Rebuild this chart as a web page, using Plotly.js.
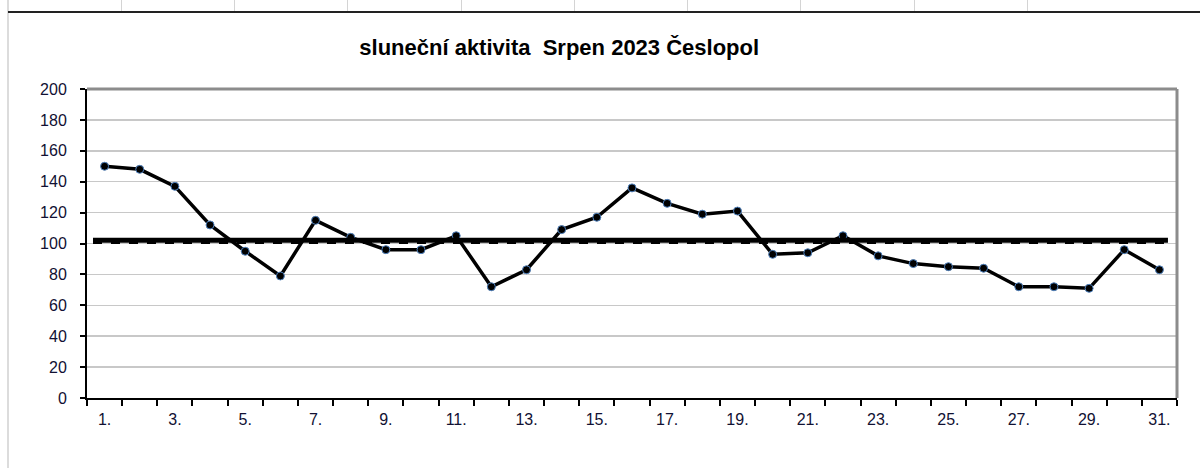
<!DOCTYPE html>
<html>
<head>
<meta charset="utf-8">
<script src="https://cdn.plot.ly/plotly-3.0.1.min.js"></script>
<style>
  html, body { margin: 0; padding: 0; background: #ffffff; }
  #wrap { position: relative; width: 1200px; height: 468px; overflow: hidden; }
  #chart { position: absolute; left: 0; top: 0; width: 1200px; height: 468px; }
  .vsep { position: absolute; top: 0; width: 1px; height: 12px; background: #d4d4d4; }
  #hline { position: absolute; left: 8px; top: 11px; width: 1192px; height: 2px; background: #222; }
  #vleft { position: absolute; left: 7px; top: 0; width: 2px; height: 468px; background: #dcdcdc; }
</style>
</head>
<body>
<div id="wrap">
  <div id="vleft"></div>
  <div class="vsep" style="left:121px"></div>
  <div class="vsep" style="left:234px"></div>
  <div class="vsep" style="left:347px"></div>
  <div class="vsep" style="left:461px"></div>
  <div class="vsep" style="left:574px"></div>
  <div class="vsep" style="left:687px"></div>
  <div class="vsep" style="left:800px"></div>
  <div class="vsep" style="left:914px"></div>
  <div class="vsep" style="left:1027px"></div>
  <div id="hline"></div>
  <div id="chart"></div>
</div>
<script>
// Days of August 2023
const days = [1,2,3,4,5,6,7,8,9,10,11,12,13,14,15,16,17,18,19,20,21,22,23,24,25,26,27,28,29,30,31];
// Daily solar activity (relative sunspot number)
const activity = [150,148,137,112,95,79,115,104,96,96,105,72,83,109,117,136,126,119,121,93,94,105,92,87,85,84,72,72,71,96,83];
// Tick labels shown on the x axis
const tickDays = [1,3,5,7,9,11,13,15,17,19,21,23,25,27,29,31];
const tickLabels = ["1.","3.","5.","7.","9.","11.","13.","15.","17.","19.","21.","23.","25.","27.","29.","31."];
const yTicks = [0,20,40,60,80,100,120,140,160,180,200];

const mean = activity.reduce((a, b) => a + b, 0) / activity.length;
const boundaries = [days[0] - 0.5].concat(days.map(d => d + 0.5));

const trace = {
  x: days,
  y: activity,
  type: 'scatter',
  mode: 'lines+markers',
  line: { color: '#000000', width: 3.5 },
  marker: { color: '#000000', size: 8, line: { color: '#4f81bd', width: 1 } },
  hoverinfo: 'x+y',
  showlegend: false
};

const layout = {
  width: 1200,
  height: 468,
  margin: { l: 87, r: 23, t: 89, b: 70 },
  paper_bgcolor: 'rgba(0,0,0,0)',
  plot_bgcolor: '#ffffff',
  font: { family: 'Liberation Sans, Arial, sans-serif', size: 16, color: '#111133' },
  title: {
    text: 'sluneční aktivita  Srpen 2023 Česlopol',
    font: { family: 'Liberation Sans, Arial, sans-serif', size: 22, color: '#000000', weight: 'bold' },
    xref: 'container', yref: 'container',
    x: 0.466, xanchor: 'center',
    y: 1 - 47 / 468, yanchor: 'middle'
  },
  xaxis: {
    range: [days[0] - 0.5, days[days.length - 1] + 0.5],
    tickmode: 'array',
    tickvals: tickDays,
    ticktext: tickLabels,
    ticks: '',
    ticklabelstandoff: 6,
    showgrid: false,
    zeroline: false,
    showline: true,
    linecolor: '#000000',
    linewidth: 2,
    tickfont: { size: 16, color: '#111133' },
    minor: {
      tickmode: 'array',
      tickvals: boundaries,
      ticks: 'outside',
      ticklen: 6,
      tickwidth: 2,
      tickcolor: '#000000',
      showgrid: false
    },
    fixedrange: true
  },
  yaxis: {
    range: [0, 200],
    tickmode: 'array',
    tickvals: yTicks,
    ticks: 'outside',
    ticklen: 5,
    tickwidth: 2,
    tickcolor: '#000000',
    ticklabelstandoff: 10,
    showgrid: true,
    gridcolor: '#c8c8c8',
    gridwidth: 1.5,
    zeroline: false,
    showline: true,
    linecolor: '#000000',
    linewidth: 2,
    tickfont: { size: 16, color: '#111133' },
    fixedrange: true
  },
  shapes: [
    { type: 'line', xref: 'paper', yref: 'y', x0: 0.0055, x1: 0.9917, y0: mean - 1.1, y1: mean - 1.1,
      line: { color: '#000000', width: 3, dash: 'dash' }, layer: 'above' },
    { type: 'line', xref: 'paper', yref: 'y', x0: 0.0055, x1: 0.9917, y0: mean + 0.3, y1: mean + 0.3,
      line: { color: '#000000', width: 5 }, layer: 'above' },
    { type: 'line', xref: 'paper', yref: 'paper', x0: 0, x1: 1, y0: 1, y1: 1,
      line: { color: '#8c8c8c', width: 3 }, layer: 'above' },
    { type: 'line', xref: 'paper', yref: 'paper', x0: 1, x1: 1, y0: 0, y1: 1,
      line: { color: '#8c8c8c', width: 3 }, layer: 'above' }
  ]
};

Plotly.newPlot('chart', [trace], layout, { displayModeBar: false, staticPlot: true });
</script>
</body>
</html>
